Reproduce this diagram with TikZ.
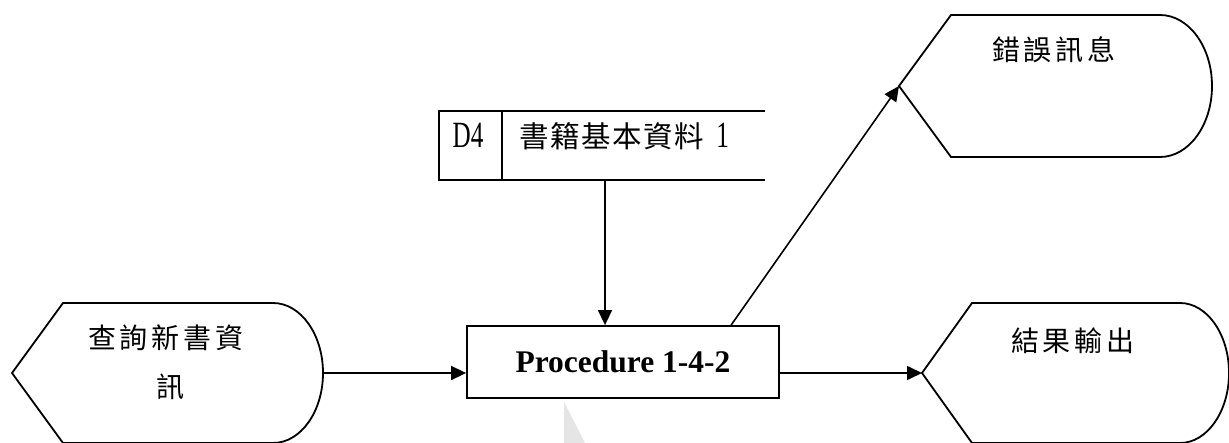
\documentclass[tikz,border=0pt]{standalone}
\usepackage{fontspec}
\setmainfont{Liberation Serif}
\newfontfamily\cjk{Noto Sans CJK TC}
\newfontfamily\narrowserif[FakeStretch=0.68]{Liberation Serif}
\usetikzlibrary{arrows.meta}
\newcommand\lsp{\hspace{4pt}}
\newcommand\lspb{\hspace{1.5pt}}
\begin{document}
\begin{tikzpicture}[x=1pt,y=-1pt,line width=1.8pt,
  conn/.style={-{Triangle[length=15pt,width=14pt]},line width=1.6pt},
  cjktext/.style={font=\cjk\fontsize{28pt}{32pt}\selectfont,inner sep=0pt},
  storetext/.style={font=\cjk\fontsize{29.5pt}{32pt}\selectfont,inner sep=0pt},
  latintext/.style={font=\narrowserif\fontsize{37pt}{40pt}\selectfont,inner sep=0pt},
  procbox/.style={draw,minimum width=312pt,minimum height=72pt,inner sep=0pt,
    font=\fontsize{31.5pt}{34pt}\selectfont\bfseries}]
\useasboundingbox (0,0) rectangle (1229,443);

% faint shadow artifact
\fill[black!10] (564,402) -- (564,443) -- (585,443) -- cycle;

% input display shape
\coordinate (inL) at (12,373);
\coordinate (inR) at (323,373);
\draw (inL) -- (63,303) -- (273,303) arc[start angle=90,end angle=-90,x radius=50pt,y radius=70pt] -- (63,443) -- cycle;
\node[cjktext] (inT1) at (166,338) {查\lsp 詢\lsp 新\lsp 書\lsp 資};
\node[cjktext] (inT2) at (170,387) {訊};

% output display shape
\coordinate (outL) at (922,373);
\draw (outL) -- (972,303) -- (1180,303) arc[start angle=90,end angle=-90,x radius=49pt,y radius=70pt] -- (972,443) -- cycle;
\node[cjktext] (outT) at (1073,341) {結\lsp 果\lsp 輸\lsp 出};

% error display shape
\coordinate (errL) at (899,86);
\draw (errL) -- (951,15) -- (1160,15) arc[start angle=90,end angle=-90,x radius=52pt,y radius=71pt] -- (951,157) -- cycle;
\node[cjktext] (errT) at (1054,50) {錯\lsp 誤\lsp 訊\lsp 息};

% process
\node[procbox] (proc) at (623,362) {Procedure 1-4-2};

% data store
\draw (765,111) -- (439,111) -- (439,180) -- (765,180);
\draw (502,111) -- (502,180);
\node[latintext] (d4) at (468,135) {D4};
\node[storetext,anchor=west] (dsname) at (519,136) {書\lspb 籍\lspb 基\lspb 本\lspb 資\lspb 料\hspace{12pt}{\narrowserif\fontsize{37pt}{40pt}\selectfont 1}};
\coordinate (dsB) at (605,180);

% connectors
\draw[conn] (dsB) -- (dsB |- proc.north);
\draw[conn] (inR) -- (inR -| proc.west);
\draw[conn] (proc.east |- outL) -- (outL);
\coordinate (procErr) at ([xshift=265pt]proc.north west);
\draw[conn] (procErr) -- (errL);
\end{tikzpicture}
\end{document}
